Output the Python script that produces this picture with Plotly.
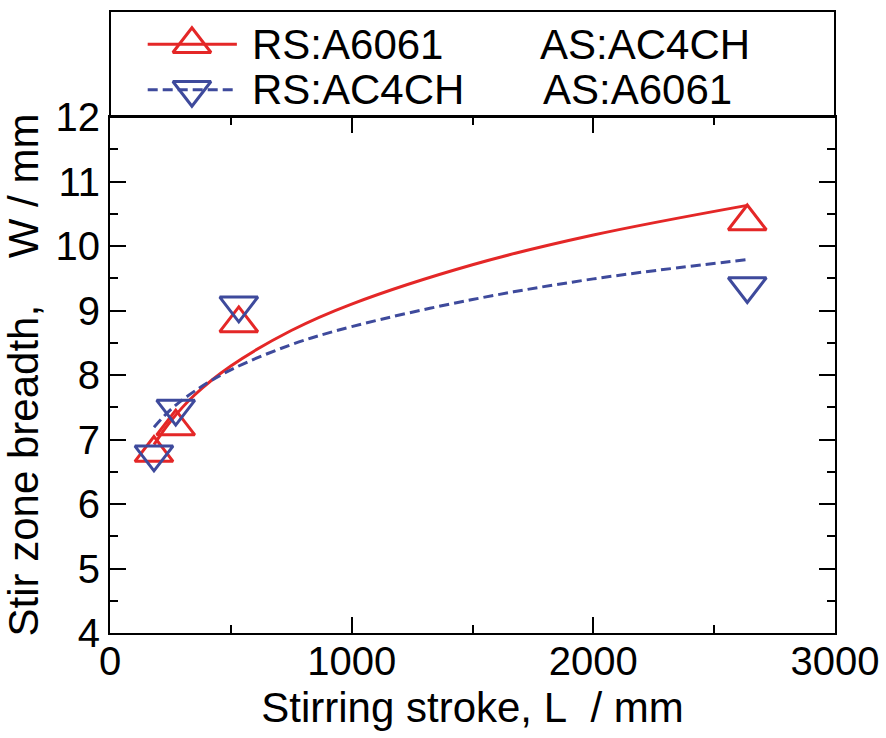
import plotly.graph_objects as go

# Measured data: stir zone breadth vs stirring stroke
stroke_mm = [182, 272, 533, 2637]
w_rs_a6061 = [6.79, 7.20, 8.80, 10.38]   # RS:A6061 / AS:AC4CH
w_rs_ac4ch = [6.77, 7.48, 9.08, 9.38]    # RS:AC4CH / AS:A6061

# Trend curves
curve_x = [182, 250, 350, 500, 750, 1000, 1500, 2000, 2637]
curve_rs_a6061 = [6.92, 7.28, 7.69, 8.14, 8.69, 9.10, 9.71, 10.17, 10.63]
curve_rs_ac4ch = [7.19, 7.46, 7.75, 8.08, 8.47, 8.75, 9.17, 9.49, 9.79]

series_names = [("RS:A6061", "AS:AC4CH"), ("RS:AC4CH", "AS:A6061")]

RED = "#E42727"
BLUE = "#3E4A9C"
FONT = "Liberation Sans, Arial, sans-serif"
NB = "\u00a0"

W, H = 886, 738
M_L, M_R, M_T, M_B = 110, 51, 11, 105
plot_top_px = 117
plot_h = H - M_T - M_B
main_top = (H - M_B - plot_top_px) / plot_h

MARK = 33

fig = go.Figure()

fig.add_trace(go.Scatter(x=curve_x, y=curve_rs_a6061, mode="lines",
                         line=dict(color=RED, width=3, shape="spline"),
                         showlegend=False, hoverinfo="skip"))
fig.add_trace(go.Scatter(x=curve_x, y=curve_rs_ac4ch, mode="lines",
                         line=dict(color=BLUE, width=3, dash="10px,5px", shape="spline"),
                         showlegend=False, hoverinfo="skip"))
fig.add_trace(go.Scatter(x=stroke_mm, y=w_rs_a6061, mode="markers",
                         marker=dict(symbol="triangle-up-open", size=MARK, color=RED,
                                     line=dict(width=3, color=RED)),
                         showlegend=False))
fig.add_trace(go.Scatter(x=stroke_mm, y=w_rs_ac4ch, mode="markers",
                         marker=dict(symbol="triangle-down-open", size=MARK, color=BLUE,
                                     line=dict(width=3, color=BLUE)),
                         showlegend=False))

# Legend keys drawn in their own small axes above the plot
key_rows = [0.686, 0.257]
key_line_x = [0.052, 0.175]
key_mark_x = 0.113
fig.add_trace(go.Scatter(x=key_line_x, y=[key_rows[0]] * 2, mode="lines",
                         line=dict(color=RED, width=3), xaxis="x2", yaxis="y2",
                         showlegend=False, hoverinfo="skip"))
fig.add_trace(go.Scatter(x=[key_mark_x], y=[key_rows[0]], mode="markers",
                         marker=dict(symbol="triangle-up-open", size=MARK, color=RED,
                                     line=dict(width=3, color=RED)),
                         xaxis="x2", yaxis="y2", showlegend=False, hoverinfo="skip"))
fig.add_trace(go.Scatter(x=key_line_x, y=[key_rows[1]] * 2, mode="lines",
                         line=dict(color=BLUE, width=3, dash="10px,5px"), xaxis="x2", yaxis="y2",
                         showlegend=False, hoverinfo="skip"))
fig.add_trace(go.Scatter(x=[key_mark_x], y=[key_rows[1]], mode="markers",
                         marker=dict(symbol="triangle-down-open", size=MARK, color=BLUE,
                                     line=dict(width=3, color=BLUE)),
                         xaxis="x2", yaxis="y2", showlegend=False, hoverinfo="skip"))

annotations = []
for row_y, (rs, as_), as_x in zip(key_rows, series_names, [0.5903, 0.5945]):
    for tx, txt in [(0.1931, rs), (as_x, as_)]:
        annotations.append(dict(x=tx, y=row_y, xref="x2", yref="y2", text=txt,
                                showarrow=False, xanchor="left", yanchor="middle",
                                font=dict(family=FONT, size=42, color="black")))

axis_common = dict(showgrid=False, zeroline=False, showline=True, linecolor="black",
                   linewidth=2, mirror="ticks", ticks="inside", ticklen=16,
                   tickwidth=2, tickcolor="black", automargin=False,
                   tickfont=dict(family=FONT, size=40, color="black"))

fig.update_layout(
    width=W, height=H,
    margin=dict(l=M_L, r=M_R, t=M_T, b=M_B, autoexpand=False),
    paper_bgcolor="white", plot_bgcolor="white",
    xaxis=dict(range=[0, 3000], dtick=1000, tick0=0, domain=[0, 1],
               ticklabelstandoff=-8,
               minor=dict(dtick=500, ticklen=8, tickwidth=2, tickcolor="black", ticks="inside"),
               title=dict(text=f"Stirring stroke, L{NB}{NB}/ mm",
                          font=dict(family=FONT, size=42, color="black"), standoff=11),
               **axis_common),
    yaxis=dict(range=[4, 12], dtick=1, tick0=4, domain=[0, main_top],
               minor=dict(dtick=0.5, ticklen=8, tickwidth=2, tickcolor="black", ticks="inside"),
               title=dict(text=f"Stir zone breadth,{NB}{NB}{NB}{NB}W / mm",
                          font=dict(family=FONT, size=42, color="black"), standoff=5),
               **axis_common),
    xaxis2=dict(range=[0, 1], domain=[0, 1], anchor="y2", visible=False, fixedrange=True),
    yaxis2=dict(range=[0, 1], domain=[main_top, 1], anchor="x2", visible=False, fixedrange=True),
    shapes=[dict(type="rect", xref="paper", yref="paper", x0=0, x1=1, y0=main_top, y1=1,
                 line=dict(color="black", width=2), layer="above")],
    annotations=annotations,
    showlegend=False,
)

fig.write_html("out.html")
